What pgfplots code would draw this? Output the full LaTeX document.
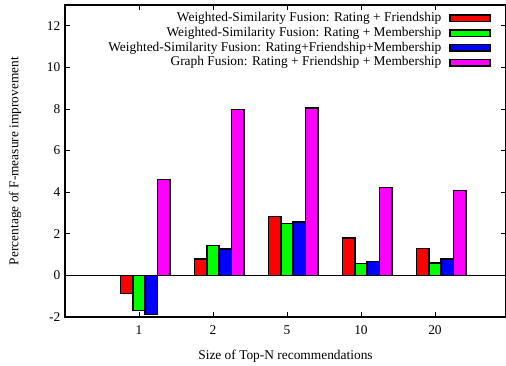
\documentclass[border=0pt]{standalone}
\usepackage{fontspec}
\setmainfont{Liberation Serif}
\usepackage{pgfplots}
\pgfplotsset{compat=1.18}
\definecolor{gpred}{RGB}{255,0,0}
\definecolor{gpgreen}{RGB}{0,255,0}
\definecolor{gpblue}{RGB}{0,0,255}
\definecolor{gpmag}{RGB}{255,0,255}
\newcommand{\gpfont}{\fontsize{13.4}{16}\selectfont}
\begin{document}
\gpfont
\begin{tikzpicture}
\useasboundingbox (-65pt,-48pt) rectangle (441pt,317pt);
\begin{axis}[
  scale only axis, width=441pt, height=312pt,
  xmin=0, xmax=5.96, ymin=-2, ymax=13,
  ybar, bar width=0.1667,
  xtick={1,2,3,4,5}, xticklabels={1,2,5,10,20},
  ytick={-2,0,2,4,6,8,10,12},
  tick align=inside, major tick length=5pt,
  tick style={black, line width=0.8pt},
  axis line style={black, line width=1.3pt},
  /pgf/number format/assume math mode=true,
  tick label style={font=\gpfont},
  xticklabel style={yshift=-4pt},
  label style={font=\gpfont},
  extra y ticks={0}, extra y tick labels={},
  extra y tick style={grid=major, grid style={black, line width=0.8pt}, major tick length=0pt},
  xlabel={Size of Top-N recommendations},
  ylabel={Percentage of F-measure improvement},
  xlabel style={at={(axis description cs:0.5,-0.125)}, anchor=center},
  ylabel style={at={(axis description cs:-0.113,0.5)}, anchor=center, rotate=0},
  legend plot pos=right,
  legend cell align=right,
  legend style={at={(axis description cs:0.966,0.982)}, anchor=north east,
    draw=none, fill=none, inner sep=0pt, row sep=0pt,
    font=\gpfont,
    /tikz/every odd column/.append style={column sep=7pt},
    nodes={inner sep=1pt, text height=9.6pt, text depth=3.2pt}},
  legend image code/.code={\draw[#1, line width=1.4pt] (0pt,-3.2pt) rectangle (40pt,3.2pt);},
]
\addplot[fill=gpred, draw=black, line width=1.5pt, bar shift=-0.1667]
  coordinates {(1,-0.87) (2,0.79) (3,2.83) (4,1.79) (5,1.30)};
\addlegendentry{Weighted-Similarity Fusion: Rating + Friendship}
\addplot[fill=gpgreen, draw=black, line width=1.5pt, bar shift=0]
  coordinates {(1,-1.68) (2,1.43) (3,2.49) (4,0.58) (5,0.59)};
\addlegendentry{Weighted-Similarity Fusion: Rating + Membership}
\addplot[fill=gpblue, draw=black, line width=1.5pt, bar shift=0.1667]
  coordinates {(1,-1.88) (2,1.27) (3,2.56) (4,0.68) (5,0.80)};
\addlegendentry{Weighted-Similarity Fusion: Rating+Friendship+Membership}
\addplot[fill=gpmag, draw=black, line width=1.5pt, bar shift=0.3333]
  coordinates {(1,4.60) (2,7.97) (3,8.05) (4,4.23) (5,4.09)};
\addlegendentry{Graph Fusion: Rating + Friendship + Membership}
\end{axis}
\end{tikzpicture}
\end{document}
